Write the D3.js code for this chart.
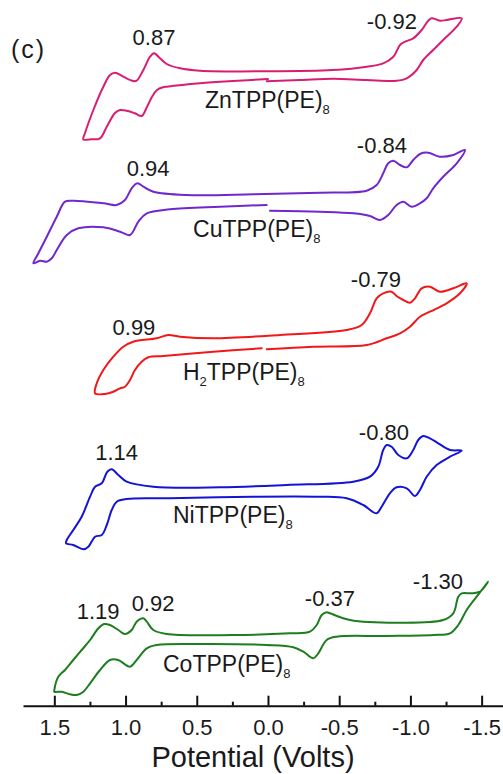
<!DOCTYPE html>
<html><head><meta charset="utf-8">
<script src="https://cdn.jsdelivr.net/npm/d3@7"></script>
<style>html,body{margin:0;padding:0;background:#fff;}svg{display:block;}text{font-family:"Liberation Sans",Arial,sans-serif;fill:#1a1a1a;}</style>
</head><body>
<script>
// ---- data: potential (V) and stacked current (a.u.) ----
const compounds = ["ZnTPP", "CuTPP", "H2TPP", "NiTPP", "CoTPP"];
const colors = ["#d81e72", "#7028cc", "#f01818", "#1414d4", "#1e7d1e"];
const closedLoop = [false, false, false, true, true];

const znV = [0.000,0.246,0.477,0.709,0.737,0.779,0.814,0.849,0.887,0.934,0.992,1.039,1.074,1.132,1.179,1.238,1.296,1.285,1.226,1.156,1.109,1.074,1.016,0.946,0.922,0.875,0.828,0.800,0.758,0.711,0.618,0.477,0.009,-0.456,-0.693,-0.809,-0.880,-0.927,-0.962,-1.020,-1.079,-1.125,-1.149,-1.207,-1.254,-1.360,-1.325,-1.230,-1.160,-1.090,-1.044,-0.974,-0.903,-0.693,-0.458,-0.225,0.009];
const znI = [62.67,62.47,62.24,61.90,61.84,61.57,60.90,59.90,58.97,59.24,59.50,59.57,59.27,57.90,56.74,56.64,56.64,57.24,59.57,61.90,63.07,63.30,62.90,62.47,62.50,63.57,64.90,65.24,64.74,64.17,63.74,63.50,63.44,63.57,63.90,64.24,64.90,66.07,66.40,66.74,67.57,68.50,68.74,68.50,68.57,68.74,67.90,66.57,65.57,64.57,63.57,62.74,62.50,62.57,62.70,62.57,62.44];

const cuV = [0.009,0.337,0.688,0.851,0.910,0.969,1.039,1.156,1.332,1.413,1.483,1.518,1.553,1.600,1.647,1.612,1.553,1.483,1.425,1.367,1.156,1.062,1.004,0.957,0.917,0.875,0.805,0.571,0.103,-0.365,-0.693,-0.763,-0.809,-0.844,-0.880,-0.927,-0.974,-1.020,-1.067,-1.125,-1.207,-1.301,-1.383,-1.325,-1.230,-1.160,-1.114,-1.067,-1.009,-0.950,-0.903,-0.844,-0.786,-0.716,-0.599,-0.365,-0.014];
const cuI = [50.07,49.90,49.64,49.24,48.40,47.07,47.40,47.84,47.74,47.07,45.57,44.74,44.40,44.50,44.24,45.24,46.90,48.90,50.40,50.50,50.24,50.07,50.57,51.74,52.24,51.90,51.40,51.07,51.14,51.30,51.50,52.07,53.24,54.24,54.50,54.07,53.84,54.57,55.17,55.30,54.90,55.07,55.57,54.24,52.90,51.74,50.74,50.24,49.90,50.40,50.07,49.07,48.57,48.97,49.24,49.40,49.50];

const h2V = [0.044,0.384,0.735,0.840,0.887,0.934,0.969,1.004,1.039,1.086,1.144,1.214,1.202,1.156,1.086,1.016,0.946,0.781,0.700,0.618,0.384,-0.084,-0.552,-0.658,-0.716,-0.763,-0.809,-0.868,-0.903,-0.950,-0.997,-1.032,-1.079,-1.137,-1.207,-1.301,-1.395,-1.348,-1.254,-1.137,-1.067,-0.997,-0.927,-0.833,-0.693,-0.318,0.009];
const h2I = [35.74,35.40,34.97,34.84,34.40,33.57,32.57,31.90,31.74,31.40,31.17,31.24,32.24,33.57,34.90,35.90,36.40,36.74,37.07,36.90,36.74,37.07,37.57,38.07,39.24,40.74,41.24,41.40,40.97,40.57,40.30,40.74,41.74,41.90,41.40,41.74,42.24,41.24,40.24,39.40,38.90,37.90,37.24,36.74,36.07,35.90,35.64];

const niV = [1.418,1.367,1.296,1.261,1.214,1.167,1.132,1.097,1.062,0.992,0.688,0.103,-0.365,-0.552,-0.669,-0.763,-0.798,-0.856,-0.903,-0.974,-1.032,-1.067,-1.114,-1.184,-1.278,-1.360,-1.278,-1.195,-1.137,-1.090,-1.055,-1.020,-0.974,-0.915,-0.868,-0.833,-0.809,-0.774,-0.716,-0.599,-0.131,0.337,0.805,0.992,1.051,1.097,1.128,1.167,1.214,1.249,1.308,1.367,1.413];
const niI = [16.24,16.07,15.64,15.90,16.90,17.07,18.07,19.57,20.40,20.67,20.74,20.90,20.90,20.74,20.07,19.24,19.90,21.24,21.84,21.74,20.97,21.57,22.90,24.07,24.90,25.50,25.57,26.24,26.74,26.97,26.57,25.57,24.74,25.07,25.90,26.07,25.57,23.90,22.90,22.40,22.07,21.84,21.90,22.40,23.07,23.64,23.40,22.24,21.90,20.90,18.90,17.57,16.57];

const coV = [1.500,1.448,1.390,1.343,1.296,1.249,1.179,1.109,1.051,0.969,0.922,0.851,0.781,0.477,0.009,-0.178,-0.248,-0.318,-0.353,-0.412,-0.482,-0.809,-1.160,-1.278,-1.336,-1.395,-1.465,-1.546,-1.488,-1.430,-1.360,-1.336,-1.301,-1.230,-0.927,-0.576,-0.435,-0.412,-0.377,-0.342,-0.295,-0.154,0.244,0.711,0.805,0.851,0.875,0.922,0.957,1.004,1.051,1.109,1.151,1.191,1.249,1.308,1.367,1.425,1.472,1.500];
const coI = [1.40,1.40,1.14,1.07,1.40,2.24,3.57,4.57,4.57,3.90,4.57,5.74,6.07,6.17,6.07,5.84,5.40,4.74,5.24,6.57,6.90,6.97,7.07,7.24,8.07,9.57,10.90,12.40,11.40,11.24,11.24,10.90,9.24,8.57,8.30,8.57,9.24,9.34,9.07,8.07,7.40,7.24,7.07,7.17,7.57,8.40,8.74,8.40,7.57,7.17,7.57,8.07,8.17,7.74,6.57,5.57,4.57,3.57,2.90,1.57];

const potentials = [znV, cuV, h2V, niV, coV];
const currents = [znI, cuI, h2I, niI, coI];

// peak potential labels: text, anchor potential, anchor current
const peakText = ["0.87","-0.92","0.94","-0.84","0.99","-0.79","1.14","-0.80","1.19","0.92","-0.37","-1.30"];
const peakV = [0.800,-0.870,0.842,-0.800,0.941,-0.758,1.063,-0.814,1.193,0.807,-0.435,-1.193];
const peakI = [66.07,67.64,52.97,55.24,37.07,41.90,24.57,26.57,8.64,9.50,10.00,11.64];

// compound name labels (left edge potential, baseline current)
const nameV = [0.442, 0.526, 0.597, 0.667, 0.737];
const nameI = [59.80, 46.90, 32.57, 18.24, 3.40];

const majorTicks = [1.5, 1.0, 0.5, 0.0, -0.5, -1.0, -1.5];
const tickLabels = ["1.5", "1.0", "0.5", "0.0", "-0.5", "-1.0", "-1.5"];
const minorTicks = [1.25, 0.75, 0.25, -0.25, -0.75, -1.25];

// ---- drawing ----
const W = 503, H = 774;
const svg = d3.select("body").append("svg").attr("width", W).attr("height", H);
svg.append("rect").attr("width", W).attr("height", H).attr("fill", "#fff");

const x = d3.scaleLinear().domain([1.72, -1.65]).range([23, 503]);
const y = d3.scaleLinear().domain([0, 70]).range([705.7, 5.7]);

compounds.forEach((c, k) => {
  const pts = potentials[k].map((v, i) => [v, currents[k][i]]);
  const line = d3.line()
    .x(d => x(d[0])).y(d => y(d[1]))
    .curve(closedLoop[k] ? d3.curveCatmullRomClosed.alpha(0.5) : d3.curveCatmullRom.alpha(0.5));
  svg.append("path").datum(pts)
    .attr("d", line)
    .attr("fill", "none")
    .attr("stroke", colors[k])
    .attr("stroke-width", 2)
    .attr("stroke-linejoin", "round")
    .attr("stroke-linecap", "round");
});

// peak labels
svg.selectAll("text.peak").data(peakText).join("text")
  .attr("class", "peak")
  .attr("x", (d, i) => x(peakV[i]))
  .attr("y", (d, i) => y(peakI[i]))
  .attr("text-anchor", "middle")
  .attr("font-size", 22)
  .text(d => d);

// compound labels with subscripts
compounds.forEach((c, k) => {
  const t = svg.append("text")
    .attr("x", x(nameV[k])).attr("y", y(nameI[k]))
    .attr("font-size", 23);
  if (c === "H2TPP") {
    t.append("tspan").text("H");
    t.append("tspan").attr("font-size", 13).attr("dy", 6).text("2");
    t.append("tspan").attr("dy", -6).text("TPP(PE)");
  } else {
    t.append("tspan").text(c + "(PE)");
  }
  t.append("tspan").attr("font-size", 13).attr("dy", 6).text("8");
});

// panel label
svg.append("text").attr("x", 11).attr("y", 58.3)
  .attr("font-size", 25).attr("letter-spacing", 2).text("(c)");

// x axis
const axisY = y(0);
const gMinor = svg.append("g").attr("transform", `translate(0,${axisY})`)
  .call(d3.axisBottom(x).tickValues(minorTicks).tickSizeInner(-4).tickSizeOuter(0).tickFormat(""));
gMinor.select(".domain").remove();
gMinor.selectAll("line").attr("stroke", "#111").attr("stroke-width", 2);

const gAxis = svg.append("g").attr("transform", `translate(0,${axisY})`)
  .call(d3.axisBottom(x).tickValues(majorTicks).tickSizeInner(-10).tickSizeOuter(0).tickPadding(13.5)
    .tickFormat((d, i) => tickLabels[i]));
gAxis.select(".domain").attr("stroke", "#111").attr("stroke-width", 2);
gAxis.selectAll(".tick line").attr("stroke", "#111").attr("stroke-width", 2);
gAxis.selectAll(".tick text").attr("font-size", 22)
  .attr("font-family", "Liberation Sans, Arial, sans-serif").attr("fill", "#1a1a1a");

svg.append("text").attr("x", 253).attr("y", 766.5)
  .attr("text-anchor", "middle").attr("font-size", 29)
  .text("Potential (Volts)");
</script>
</body></html>
